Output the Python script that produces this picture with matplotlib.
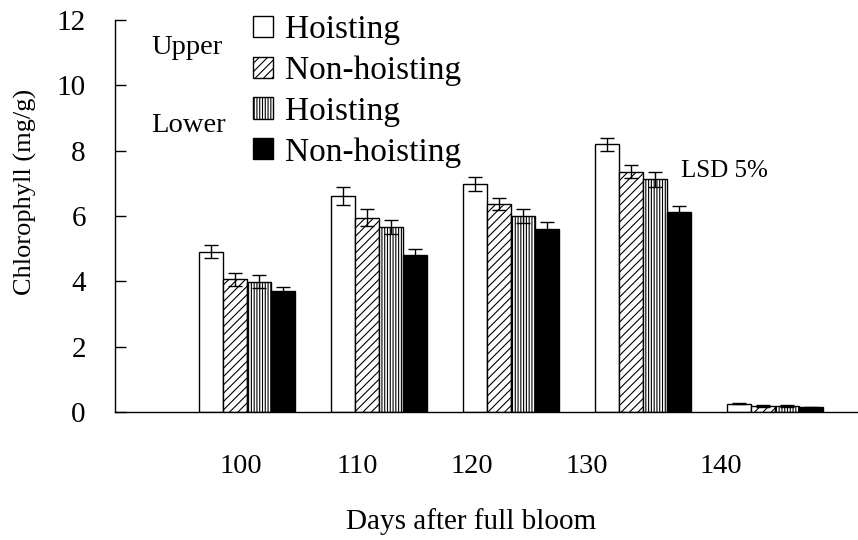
"""
Chlorophyll content of upper and lower leaves, hoisting vs non-hoisting.
"""
import numpy as np
from matplotlib import pyplot as plt

plt.rcParams['font.family'] = ['Liberation Serif', 'DejaVu Serif']
plt.rcParams['hatch.linewidth'] = 0.8

# Data
days = ['100', '110', '120', '130', '140']
series_labels = ['Hoisting', 'Non-hoisting', 'Hoisting', 'Non-hoisting']
upper_hoisting = [4.9, 6.62, 6.97, 8.19, 0.25]
upper_non_hoisting = [4.07, 5.95, 6.36, 7.36, 0.18]
lower_hoisting = [3.99, 5.66, 6.0, 7.12, 0.18]
lower_non_hoisting = [3.7, 4.81, 5.61, 6.11, 0.14]
upper_hoisting_err = [0.2, 0.27, 0.21, 0.21, 0.02]
upper_non_hoisting_err = [0.2, 0.25, 0.19, 0.21, 0.02]
lower_hoisting_err = [0.2, 0.22, 0.2, 0.22, 0.02]
lower_non_hoisting_err = [0.14, 0.18, 0.2, 0.2, 0.02]
# x label positions (the original labels sit a little off the groups)
label_pos = [-0.045, 0.833, 1.70, 2.57, 3.59]

values = [upper_hoisting, upper_non_hoisting, lower_hoisting, lower_non_hoisting]
errors = [upper_hoisting_err, upper_non_hoisting_err, lower_hoisting_err, lower_non_hoisting_err]
styles = [
    dict(color='white', hatch=None),
    dict(color='white', hatch='////'),
    dict(color='white', hatch='||||||'),
    dict(color='black', hatch=None),
]

fig = plt.figure(figsize=(8.58, 5.40), dpi=100)
ax = fig.add_axes([115 / 858, 128 / 540, 742 / 858, 392 / 540])

x = np.arange(len(days))
width = 0.182

# Draw the four bars of each group
for i, (vals, errs, style) in enumerate(zip(values, errors, styles)):
    offset = (i - 1.5) * width
    ax.bar(x + offset, vals, width, color=style['color'], hatch=style['hatch'],
           edgecolor='black', linewidth=1.0, label=series_labels[i], zorder=2)
    ax.errorbar(x + offset, vals, yerr=errs, fmt='none', ecolor='black',
                elinewidth=1.0, capsize=5, capthick=1.0, zorder=3)

# Axes styling
ax.set_xlim(-1.0, 4.62)
ax.set_ylim(0, 12)
ax.set_yticks(np.arange(0, 13, 2))
ax.set_xticks(label_pos)
ax.set_xticklabels(days)
ax.tick_params(axis='y', direction='in', length=8, width=1, pad=21, labelsize=21)
ax.tick_params(axis='x', length=0, pad=30, labelsize=20.5)
for side in ['top', 'right']:
    ax.spines[side].set_visible(False)
ax.spines['left'].set_linewidth(1)
ax.spines['bottom'].set_linewidth(1)

ax.set_xlabel('Days after full bloom', fontsize=21)
ax.xaxis.set_label_coords(0.48, -0.245)
ax.set_ylabel('Chlorophyll (mg/g)', fontsize=19)
ax.yaxis.set_label_coords(-0.105, 0.561)

# Legend with the Upper / Lower group labels
ax.legend(loc='upper left', bbox_to_anchor=(0.168, 1.048), frameon=False,
          fontsize=24, handlelength=0.6, handleheight=0.6, handletextpad=0.35,
          labelspacing=0.31, borderaxespad=0)
ax.text(0.049, 0.93, 'Upper', transform=ax.transAxes, fontsize=20.5, va='center')
ax.text(0.049, 0.732, 'Lower', transform=ax.transAxes, fontsize=20.5, va='center')
ax.text(3.285, 7.2, 'LSD 5%', fontsize=18, va='baseline')

plt.savefig('out.png', dpi=100)
